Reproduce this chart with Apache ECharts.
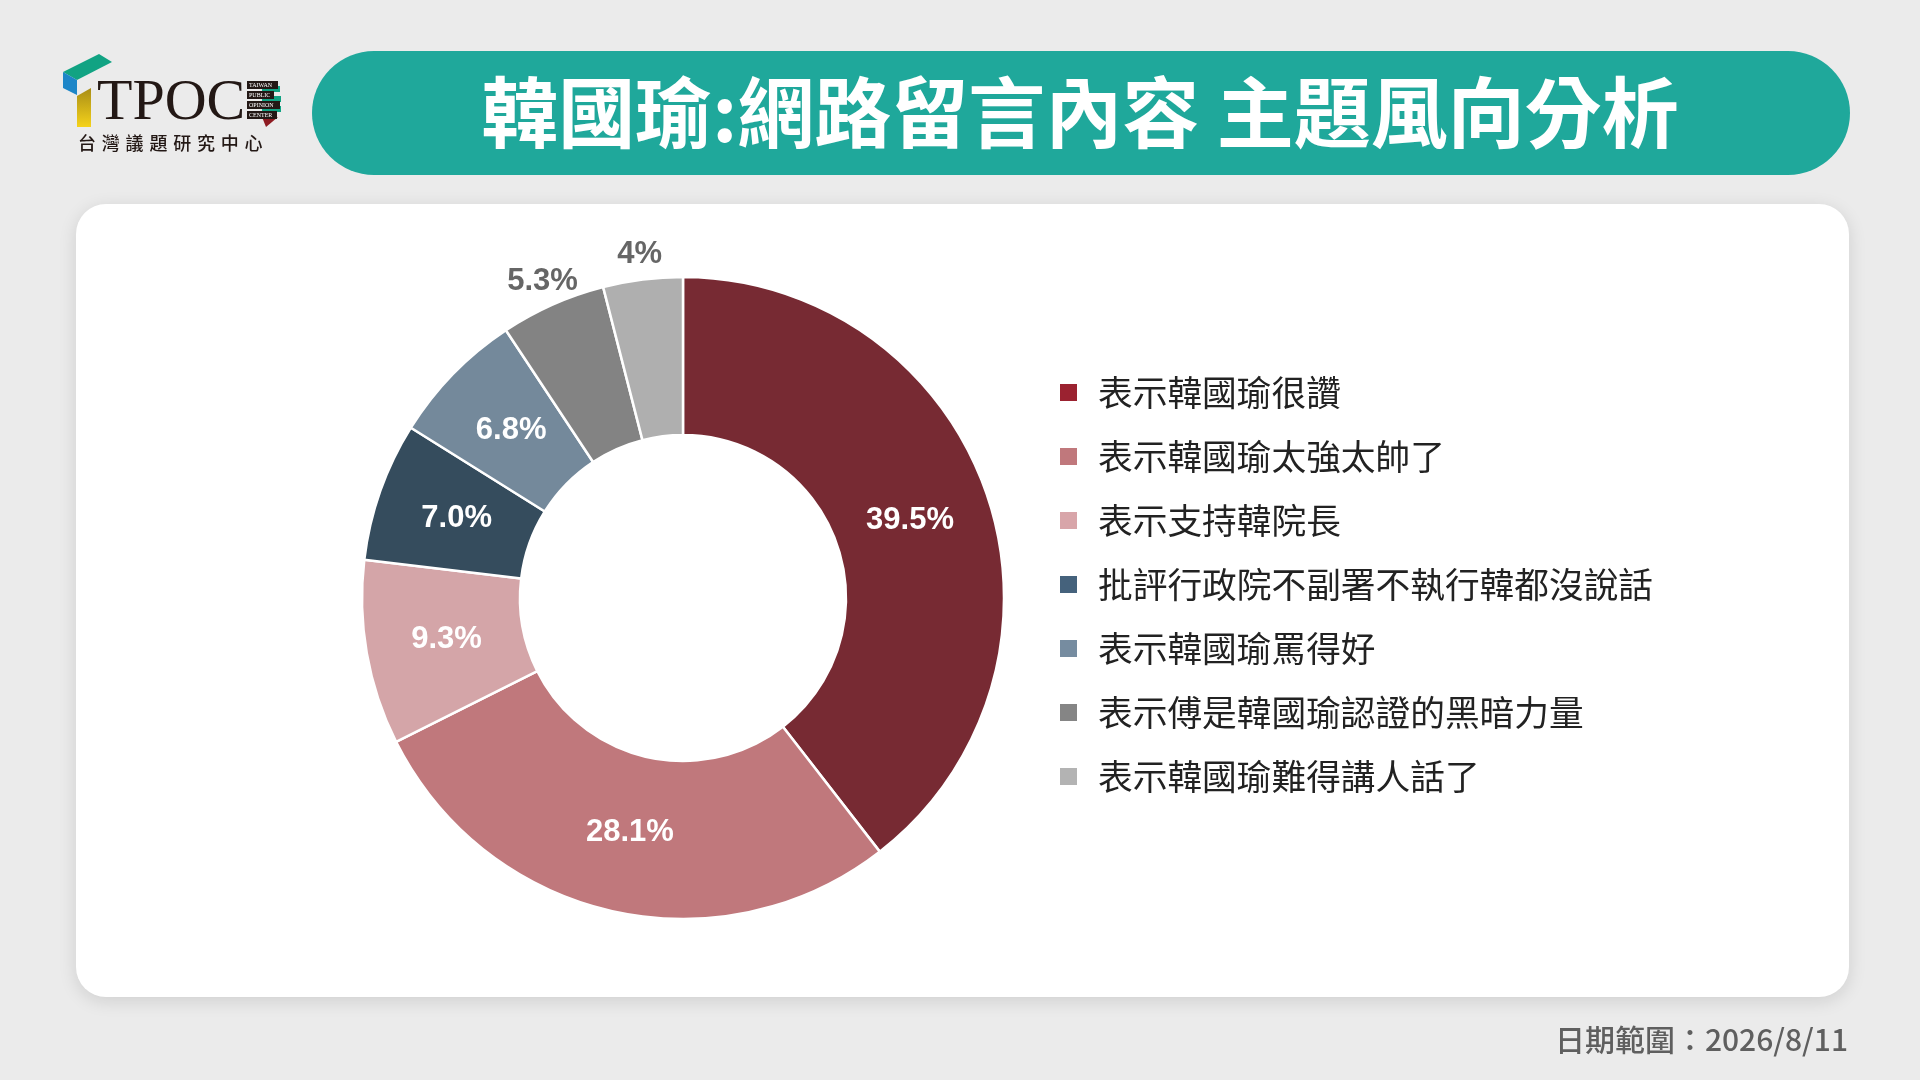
<!DOCTYPE html>
<html>
<head>
<meta charset="utf-8">
<script src="https://cdn.jsdelivr.net/npm/echarts@6/dist/echarts.min.js"></script>
<style>
html,body{margin:0;padding:0;background:#ebebeb;}
#chart{width:1920px;height:1080px;}
</style>
</head>
<body>
<div id="chart"></div>
<script>
const categories = ['表示韓國瑜很讚','表示韓國瑜太強太帥了','表示支持韓院長','批評行政院不副署不執行韓都沒說話','表示韓國瑜罵得好','表示傅是韓國瑜認證的黑暗力量','表示韓國瑜難得講人話了'];
const values = [39.5, 28.1, 9.3, 7.0, 6.8, 5.3, 4];
const valueLabels = ['39.5%','28.1%','9.3%','7.0%','6.8%','5.3%','4%'];
const sliceColors = ['#772a33','#c0787c','#d4a5a8','#354c5d','#74899b','#838383','#afafaf'];
const legendColors = ['#9b2230','#c0787c','#d8a5a9','#45627c','#768ca0','#858585','#b3b3b3'];
const outsideLabel = [false,false,false,false,false,true,true];
const titleText = '韓國瑜:網路留言內容 主題風向分析';
const footerText = '日期範圍：2026/8/11';
const logoSubtitle = '台灣議題研究中心';
const logoWords = ['TAIWAN','PUBLIC','OPINION','CENTER'];

const chart = echarts.init(document.getElementById('chart'), null, {renderer:'canvas', width:1920, height:1080});

const CJK = '"Noto Sans CJK TC","Noto Sans CJK SC",sans-serif';
const NUM = '"Liberation Sans",Arial,sans-serif';

const mainData = categories.map((n,i)=>({
  name:n, value:values[i], itemStyle:{color:sliceColors[i]}
}));
const innerLabelData = categories.map((n,i)=>({
  name:n, value:values[i], label:{show:!outsideLabel[i]}
}));
const outerLabelData = categories.map((n,i)=>({
  name:n, value:values[i], label:{show:outsideLabel[i]}
}));

const graphic = [
  {type:'rect', z:0, shape:{x:76,y:204,width:1773,height:793,r:30},
   style:{fill:'#ffffff', shadowBlur:18, shadowColor:'rgba(0,0,0,0.12)', shadowOffsetY:4}},
  {type:'rect', z:0, shape:{x:312,y:51,width:1538,height:124,r:62}, style:{fill:'#1fa89b'}},
  {type:'text', z:1, x:1080, y:113, style:{text:titleText, fill:'#ffffff', font:'bold 77px '+CJK, textAlign:'center', textVerticalAlign:'middle'}},
  // logo
  {type:'polygon', z:1, shape:{points:[[63,72],[99,54],[112,62],[77,80]]}, style:{fill:'#11a383'}},
  {type:'polygon', z:1, shape:{points:[[63,72],[77,80],[77,95],[63,88]]}, style:{fill:'#1d86c8'}},
  {type:'polygon', z:1, shape:{points:[[77,96],[91,88],[91,127],[77,127]]},
   style:{fill:new echarts.graphic.LinearGradient(0,0,0,1,[{offset:0,color:'#a88d17'},{offset:1,color:'#f5d21a'}])}},
  {type:'text', z:1, x:97, y:133, style:{text:'TPOC', fill:'#231815', font:'58px "Liberation Serif","Times New Roman",serif', textAlign:'left', textVerticalAlign:'bottom'}},
  {type:'polygon', z:1, shape:{points:[[262,86],[280,86],[280,92],[262,92]]}, style:{fill:'#11a383'}},
  {type:'polygon', z:1, shape:{points:[[262,96],[281,96],[281,102],[262,102]]}, style:{fill:'#11a383'}},
  {type:'polygon', z:1, shape:{points:[[262,106],[281,106],[281,112],[262,112]]}, style:{fill:'#11a383'}},
  {type:'polygon', z:1, shape:{points:[[262,117],[278,117],[266,127]]}, style:{fill:'#8e1b22'}},
  {type:'rect', z:2, shape:{x:247,y:81,width:31,height:8}, style:{fill:'#231815'}},
  {type:'rect', z:2, shape:{x:247,y:91,width:27,height:8}, style:{fill:'#231815'}},
  {type:'rect', z:2, shape:{x:247,y:101,width:33,height:8}, style:{fill:'#231815'}},
  {type:'rect', z:2, shape:{x:247,y:111,width:30,height:8}, style:{fill:'#231815'}},
  {type:'text', z:1, x:1848, y:1040, style:{text:footerText, fill:'#5f5f5f', font:'500 30px '+CJK, textAlign:'right', textVerticalAlign:'middle'}}
];
logoWords.forEach((w,i)=>{
  graphic.push({type:'text', z:3, x:249, y:85+i*10, style:{text:w, fill:'#fff', font:'6px "Liberation Serif",serif', textVerticalAlign:'middle'}});
});
Array.from(logoSubtitle).forEach((ch,i)=>{
  graphic.push({type:'text', z:1, x:78+i*23.8, y:143, style:{text:ch, fill:'#231815', font:'500 18px '+CJK, textVerticalAlign:'middle'}});
});

chart.setOption({
  backgroundColor:'#ebebeb',
  animation:false,
  graphic: graphic,
  legend:{
    orient:'vertical', left:1053, top:370,
    itemWidth:19, itemHeight:19, itemGap:29,
    icon:'rect',
    textStyle:{fontFamily:CJK, fontSize:34.7, lineHeight:35, color:'#222222', padding:[0,0,0,15]},
    data: categories.map((n,i)=>({name:n, icon:'rect', itemStyle:{color:legendColors[i]}}))
  },
  series:[
    {
      type:'pie', name:'main', center:[683,598], radius:[163,321],
      startAngle:90, clockwise:true, avoidLabelOverlap:false,
      itemStyle:{borderColor:'#ffffff', borderWidth:2.5},
      label:{show:false},
      labelLine:{show:false},
      emphasis:{disabled:true},
      data: mainData
    },
    {
      type:'pie', name:'innerLabels', center:[683,598], radius:[163,311],
      startAngle:90, clockwise:true, avoidLabelOverlap:false, silent:true,
      itemStyle:{color:'rgba(0,0,0,0)'},
      label:{position:'inside', color:'#ffffff', fontFamily:NUM, fontWeight:'bold', fontSize:31,
        padding:[10,0,0,0], formatter:(p)=>valueLabels[p.dataIndex]},
      labelLine:{show:false},
      emphasis:{disabled:true},
      data: innerLabelData
    },
    {
      type:'pie', name:'outerLabels', center:[683,598], radius:[321,365],
      startAngle:90, clockwise:true, avoidLabelOverlap:false, silent:true,
      itemStyle:{color:'rgba(0,0,0,0)'},
      label:{position:'inside', color:'#666666', fontFamily:NUM, fontWeight:'bold', fontSize:31,
        padding:[16,0,0,0], formatter:(p)=>valueLabels[p.dataIndex]},
      labelLine:{show:false},
      emphasis:{disabled:true},
      data: outerLabelData
    }
  ]
});
</script>
</body>
</html>
